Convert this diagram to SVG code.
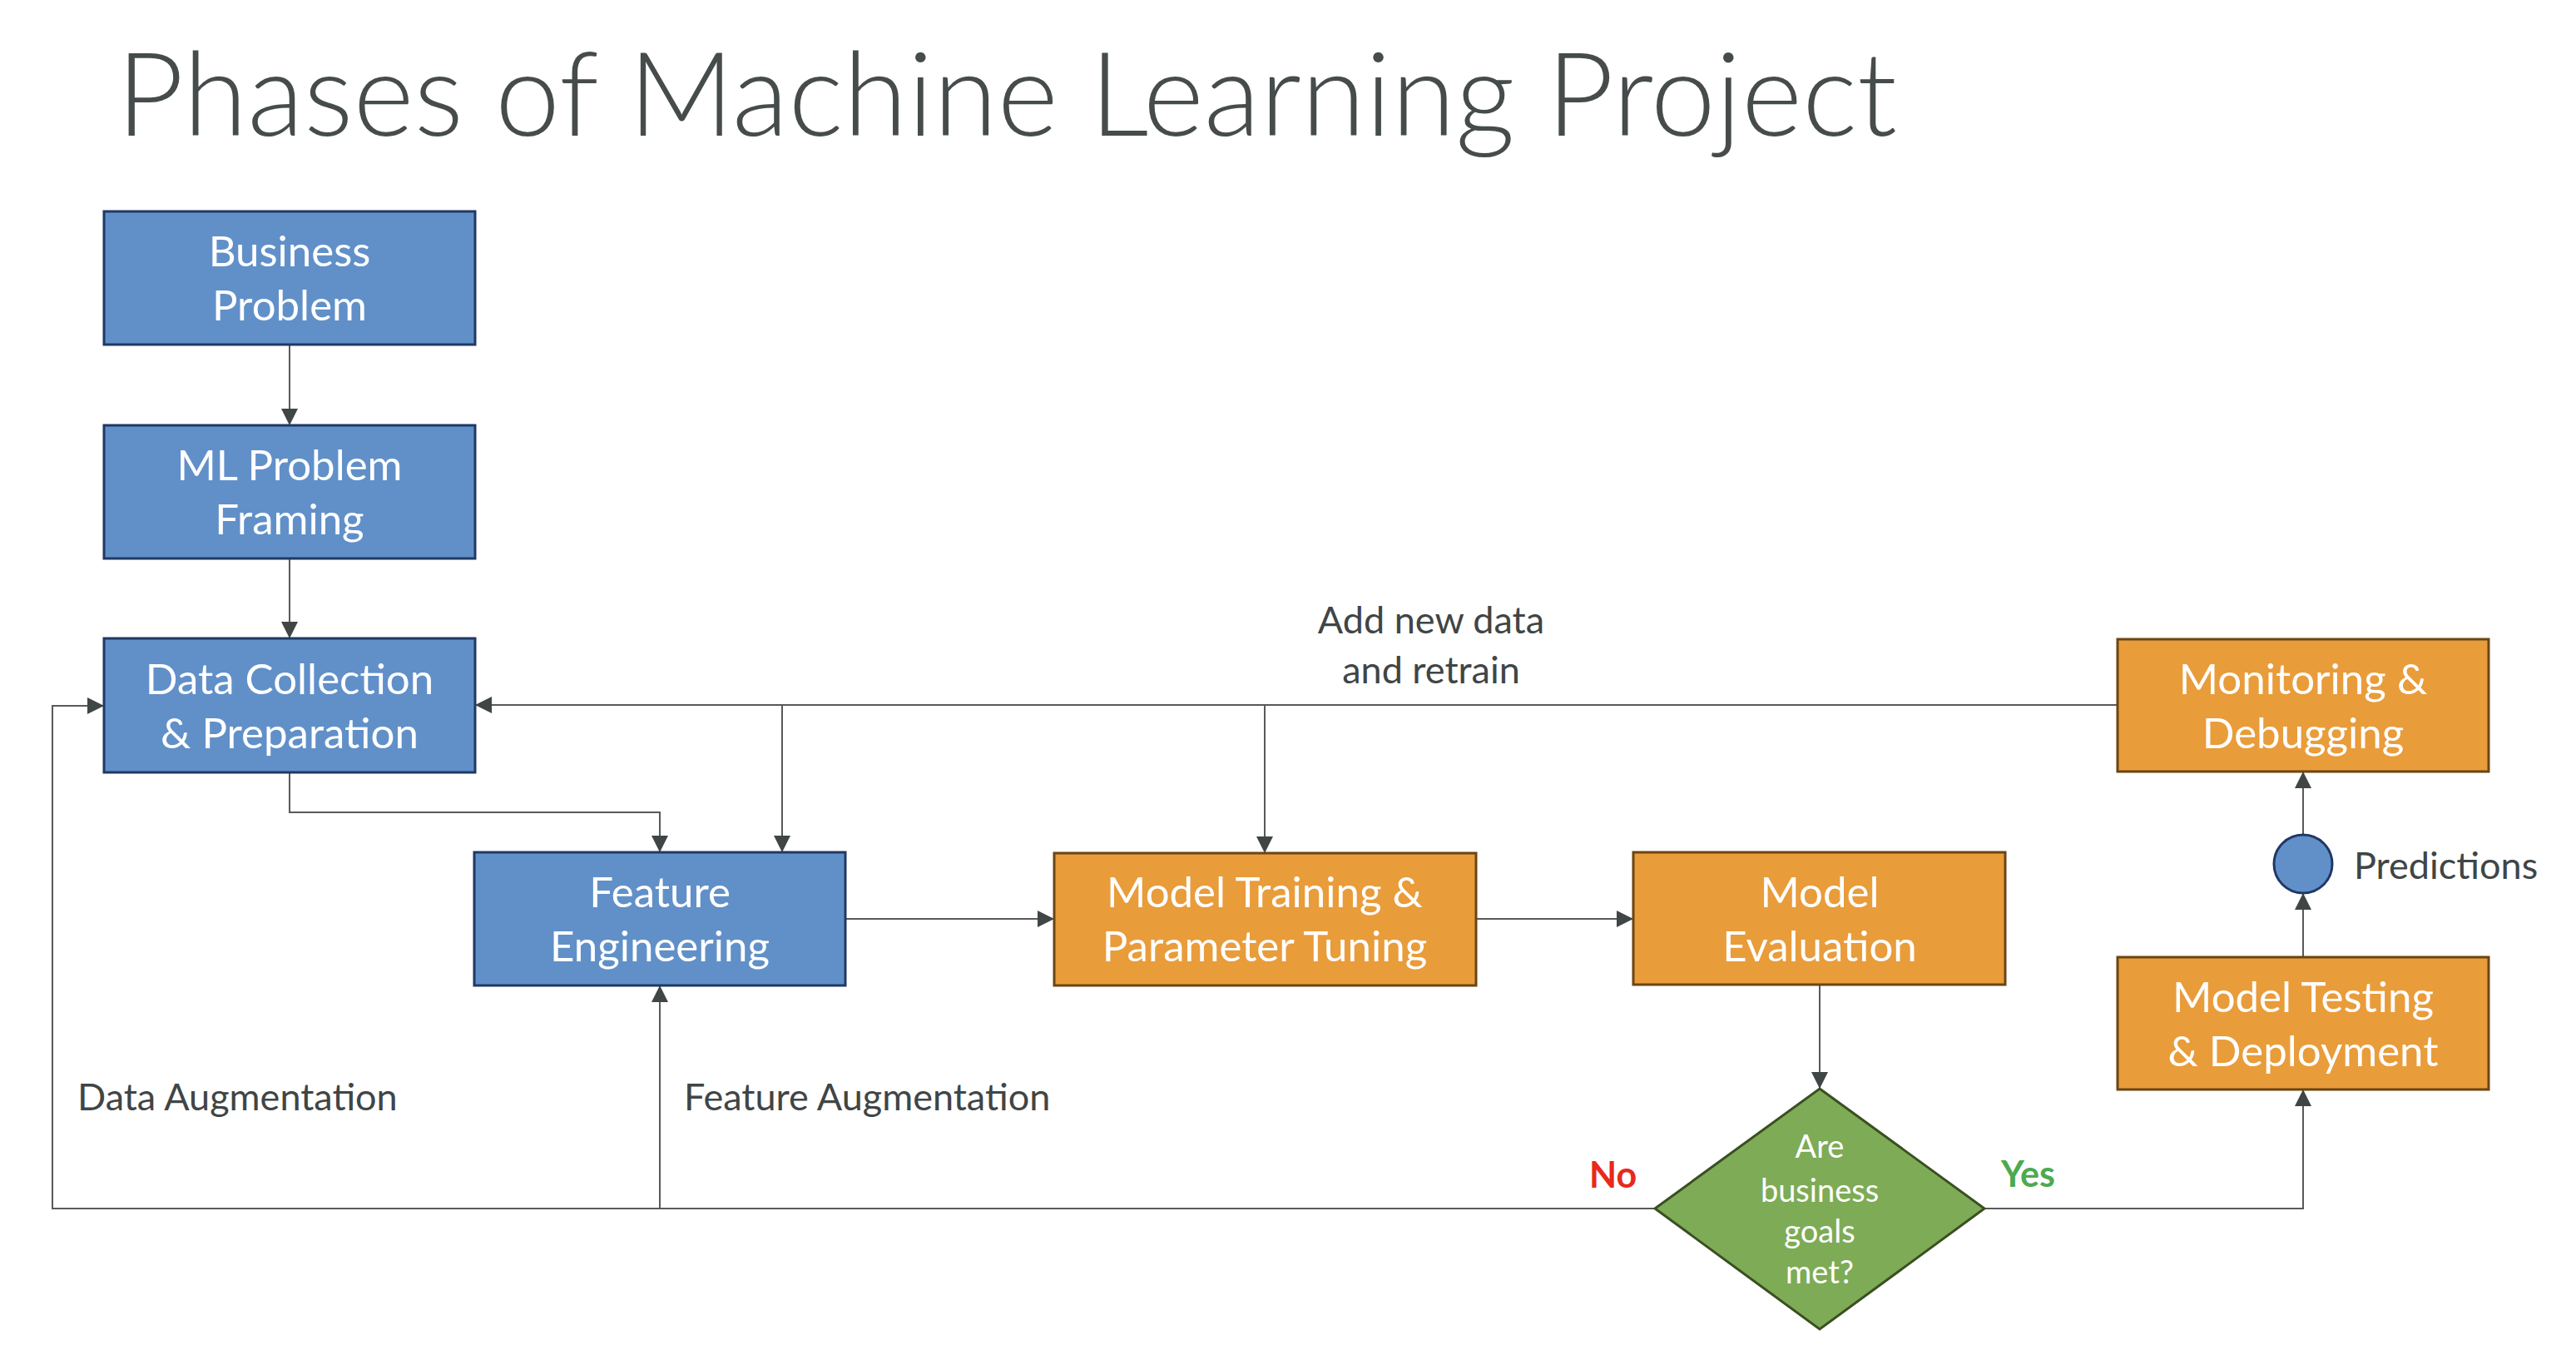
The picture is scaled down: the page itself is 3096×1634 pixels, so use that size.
<svg xmlns="http://www.w3.org/2000/svg" width="3096" height="1634" viewBox="0 0 3096 1634">
<style>
.title{font-family:Lato,"Open Sans","Liberation Sans",sans-serif;font-weight:300;font-size:140px;fill:#464b4b}
.bt{font-family:Lato,"Open Sans","Liberation Sans",sans-serif;font-size:51px;fill:#ffffff;text-anchor:middle}
.dt{font-family:Lato,"Open Sans","Liberation Sans",sans-serif;font-size:38px;fill:#ffffff;text-anchor:middle}
.lbl{font-family:Lato,"Open Sans","Liberation Sans",sans-serif;font-size:45px;fill:#404545}
.blue{fill:#6190c9;stroke:#203864;stroke-width:3}
.orange{fill:#e99c3a;stroke:#6b4513;stroke-width:3}
.green{fill:#7eab56;stroke:#3a4f22;stroke-width:3}
.ln{fill:none;stroke:#595959;stroke-width:2}
.arr{fill:none;stroke:#595959;stroke-width:2;marker-end:url(#ah)}
.no{font-family:Lato,"Open Sans","Liberation Sans",sans-serif;font-weight:bold;font-size:43px;fill:#e8291c}
.yes{font-family:Lato,"Open Sans","Liberation Sans",sans-serif;font-weight:bold;font-size:43px;fill:#4caa4f}
</style>
<defs>
<marker id="ah" markerUnits="userSpaceOnUse" markerWidth="20" markerHeight="20" refX="20" refY="10" orient="auto">
<path d="M0,0 L20,10 L0,20 Z" fill="#404545"/>
</marker>
</defs>
<rect width="3096" height="1634" fill="#ffffff"/>
<text class="title" x="140" y="163" textLength="2140" lengthAdjust="spacingAndGlyphs">Phases of Machine Learning Project</text>

<g id="connectors">
<path class="arr" d="M348,414 L348,511"/>
<path class="arr" d="M348,671 L348,767"/>
<path class="arr" d="M348,928 L348,976 L793,976 L793,1024"/>
<path class="arr" d="M2545,847 L571,847"/>
<path class="arr" d="M940,847 L940,1024"/>
<path class="arr" d="M1520,847 L1520,1025"/>
<path class="arr" d="M1016,1104 L1267,1104"/>
<path class="arr" d="M1774,1104 L1963,1104"/>
<path class="arr" d="M2187,1183 L2187,1308"/>
<path class="arr" d="M1989,1452 L63,1452 L63,848 L125,848"/>
<path class="arr" d="M793,1452 L793,1184"/>
<path class="arr" d="M2385,1452 L2768,1452 L2768,1309"/>
<path class="arr" d="M2768,1150 L2768,1073"/>
<path class="arr" d="M2768,1003 L2768,927"/>
<text class="lbl" x="1720" y="761" text-anchor="middle">Add new data</text>
<text class="lbl" x="1720" y="821" text-anchor="middle">and retrain</text>
<text class="lbl" x="93" y="1334">Data Augmentation</text>
<text class="lbl" x="822" y="1334">Feature Augmentation</text>
<text class="no" x="1910" y="1427">No</text>
<text class="yes" x="2405" y="1426">Yes</text>
<text class="lbl" x="2829" y="1056">Predictions</text>
</g>

<g id="business-problem">
<rect class="blue" x="125" y="254" width="446" height="160"/>
<text class="bt" x="348" y="320">Business</text>
<text class="bt" x="348" y="385">Problem</text>
</g>
<g id="ml-problem-framing">
<rect class="blue" x="125" y="511" width="446" height="160"/>
<text class="bt" x="348" y="577">ML Problem</text>
<text class="bt" x="348" y="642">Framing</text>
</g>
<g id="data-collection">
<rect class="blue" x="125" y="767" width="446" height="161"/>
<text class="bt" x="348" y="834">Data Collection</text>
<text class="bt" x="348" y="899">&amp; Preparation</text>
</g>
<g id="feature-engineering">
<rect class="blue" x="570" y="1024" width="446" height="160"/>
<text class="bt" x="793" y="1090">Feature</text>
<text class="bt" x="793" y="1155">Engineering</text>
</g>
<g id="model-training">
<rect class="orange" x="1267" y="1025" width="507" height="159"/>
<text class="bt" x="1520" y="1090">Model Training &amp;</text>
<text class="bt" x="1520" y="1155">Parameter Tuning</text>
</g>
<g id="model-evaluation">
<rect class="orange" x="1963" y="1024" width="447" height="159"/>
<text class="bt" x="2187" y="1090">Model</text>
<text class="bt" x="2187" y="1155">Evaluation</text>
</g>
<g id="decision">
<polygon class="green" points="2187,1308 2385,1452 2187,1597 1989,1452"/>
<text class="dt" x="2187" y="1391">Are</text>
<text class="dt" x="2187" y="1444">business</text>
<text class="dt" x="2187" y="1493">goals</text>
<text class="dt" x="2187" y="1542">met?</text>
</g>
<g id="model-testing">
<rect class="orange" x="2545" y="1150" width="446" height="159"/>
<text class="bt" x="2768" y="1216">Model Testing</text>
<text class="bt" x="2768" y="1281">&amp; Deployment</text>
</g>
<g id="predictions">
<circle class="blue" cx="2768" cy="1038" r="35"/>
</g>
<g id="monitoring">
<rect class="orange" x="2545" y="768" width="446" height="159"/>
<text class="bt" x="2768" y="834">Monitoring &amp;</text>
<text class="bt" x="2768" y="899">Debugging</text>
</g>
</svg>
